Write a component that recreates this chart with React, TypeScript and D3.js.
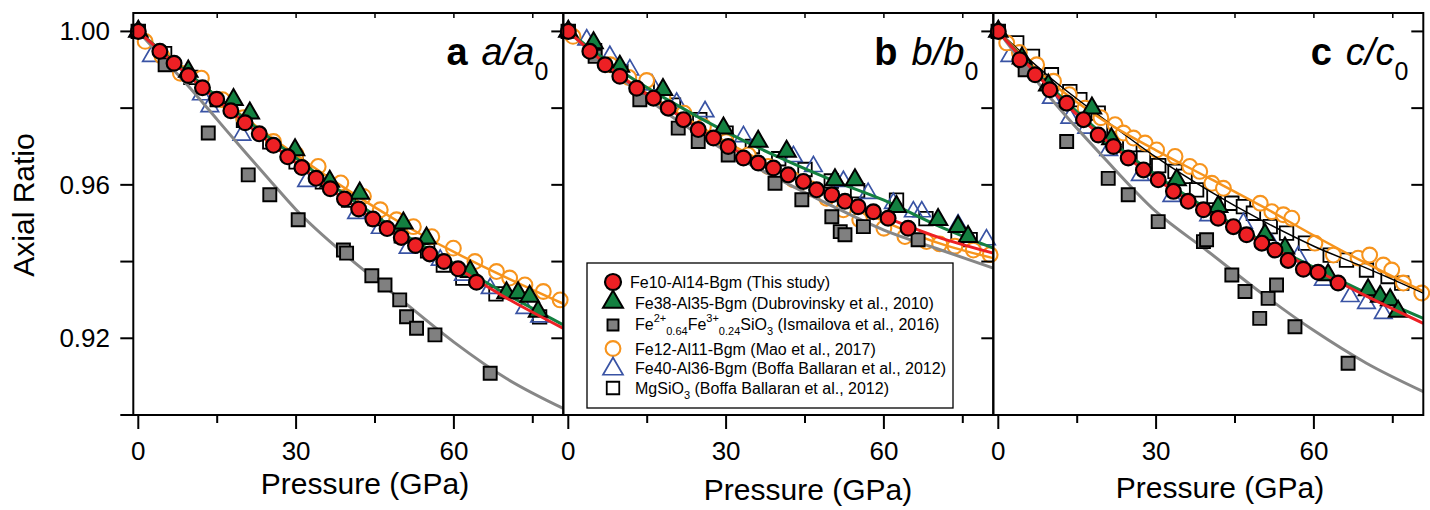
import React from 'react';
import * as d3 from 'd3';

type Pt = [number, number];

// ---------- axis ticks ----------
const pressureMajor = [0, 30, 60];
const pressureMinor = [15, 45, 75];
const ratioMajor = [1.0, 0.96, 0.92];
const ratioMinor = [0.98, 0.94, 0.9];
const panelLetters = ['a', 'b', 'c'];

// ---------- panel a (a/a0) ----------
const redA: Pt[] = [[0, 1.0], [4.1, 0.9948], [6.8, 0.9917], [9.5, 0.9885], [12.2, 0.9853], [14.9, 0.9823], [17.6, 0.9793], [20.3, 0.9762], [23.0, 0.9733], [25.7, 0.9703], [28.4, 0.9673], [31.1, 0.9645], [33.8, 0.9617], [36.5, 0.959], [39.2, 0.9563], [41.9, 0.9537], [44.6, 0.9511], [47.3, 0.9486], [50.0, 0.9463], [52.7, 0.9442], [55.4, 0.942], [58.1, 0.94], [60.8, 0.9381], [64.3, 0.9346]];
const redFitA: Pt[] = [[0, 1.0], [10, 0.9879], [20, 0.9765], [30, 0.9657], [40, 0.9555], [50, 0.9463], [60, 0.9388], [70, 0.9305], [80.8, 0.9226]];
const greenA: Pt[] = [[0, 1.0], [9.5, 0.9896], [18.1, 0.9822], [21.2, 0.9787], [29.8, 0.9691], [36.4, 0.9609], [42.1, 0.9578], [50.4, 0.95], [54.8, 0.9461], [63.1, 0.9374], [70.0, 0.9318], [72.2, 0.9318], [74.4, 0.9309], [76.0, 0.927]];
const greenFitA: Pt[] = [[0, 1.0], [10, 0.9885], [20, 0.9775], [30, 0.967], [40, 0.9568], [50, 0.9475], [60, 0.9395], [70, 0.9315], [80.8, 0.9235]];
const blueA: Pt[] = [[0, 1.0], [2.5, 0.9935], [12.0, 0.9835], [13.6, 0.9804], [19.7, 0.973], [32.0, 0.9609], [41.5, 0.9526], [46.0, 0.9487], [51.3, 0.9435], [57.4, 0.9404], [61.8, 0.9365], [66.9, 0.933], [73.5, 0.9278], [76.3, 0.9256]];
const orangeA: Pt[] = [[1.3, 0.9974], [4.5, 0.9935], [8.0, 0.9891], [12.0, 0.9878], [16.0, 0.9822], [20.0, 0.9775], [25.7, 0.9713], [30.0, 0.968], [34.2, 0.9648], [38.5, 0.9605], [42.8, 0.957], [46.0, 0.9535], [49.1, 0.9509], [52.3, 0.9491], [55.8, 0.9465], [59.9, 0.9435], [64.0, 0.94], [68.1, 0.9374], [70.6, 0.9357], [73.5, 0.9339], [77.0, 0.9322], [80.2, 0.93]];
const orangeFitA: Pt[] = [[0, 1.0], [10, 0.9885], [20, 0.9778], [30, 0.9678], [40, 0.9585], [50, 0.95], [60, 0.9425], [70, 0.9358], [80.8, 0.929]];
const grayA: Pt[] = [[0, 1.0], [5.1, 0.9913], [13.3, 0.9735], [20.9, 0.9626], [25.0, 0.9574], [30.4, 0.9509], [39.0, 0.943], [39.6, 0.9422], [44.4, 0.9363], [46.9, 0.9339], [49.7, 0.93], [51.0, 0.9256], [52.9, 0.9226], [56.4, 0.9209], [66.9, 0.9109]];
const grayFitA: Pt[] = [[0, 1.0], [5, 0.9925], [10, 0.985], [15, 0.977], [20, 0.969], [25, 0.9612], [30, 0.9535], [40, 0.941], [50, 0.93], [60, 0.919], [70, 0.9095], [80.8, 0.9017]];
const mgA: Pt[] = [[0, 1.0], [5, 0.9942], [10, 0.988], [15, 0.9822], [20, 0.9768], [25, 0.9712], [30, 0.966], [35, 0.9608], [40, 0.956], [45, 0.9512], [50, 0.9467], [55, 0.9428], [58.0, 0.9391], [61.7, 0.9357], [68.0, 0.9316], [76.3, 0.9256]];

// ---------- panel b (b/b0) ----------
const redB: Pt[] = [[0, 1.0], [4.1, 0.9948], [7.0, 0.9913], [9.8, 0.9883], [13.0, 0.9852], [16.2, 0.9826], [19.0, 0.98], [21.9, 0.977], [24.7, 0.9744], [27.6, 0.9722], [30.4, 0.97], [33.3, 0.967], [36.1, 0.9657], [39.0, 0.9644], [41.8, 0.9626], [44.7, 0.9609], [47.2, 0.9587], [50.1, 0.9574], [52.6, 0.9557], [55.1, 0.9543], [58.0, 0.953], [60.8, 0.9513], [64.6, 0.9487]];
const redFitB: Pt[] = [[0, 1.0], [10, 0.9883], [20, 0.979], [30, 0.9703], [40, 0.9637], [50, 0.9574], [60, 0.9517], [70, 0.9465], [80.8, 0.9422]];
const greenB: Pt[] = [[0, 1.0], [4.8, 0.997], [9.8, 0.9909], [18.0, 0.9848], [29.5, 0.9748], [36.1, 0.9713], [41.5, 0.9687], [50.7, 0.9613], [54.5, 0.9613], [62.4, 0.9543], [70.3, 0.9509], [74.1, 0.9491], [76.0, 0.9465]];
const greenFitB: Pt[] = [[0, 1.0], [10, 0.9897], [20, 0.9813], [30, 0.9738], [40, 0.9672], [50, 0.9613], [60, 0.956], [70, 0.9495], [80.8, 0.9435]];
const blueB: Pt[] = [[0, 1.0], [3.5, 0.9978], [7.9, 0.9935], [11.7, 0.99], [15.9, 0.9861], [20.6, 0.9813], [26.0, 0.9791], [33.3, 0.9726], [42.8, 0.9674], [46.6, 0.9648], [52.3, 0.9609], [57.0, 0.9578], [61.8, 0.9552], [65.6, 0.953], [67.2, 0.953], [74.1, 0.9496], [79.5, 0.9457]];
const orangeB: Pt[] = [[0.9, 0.9987], [4.5, 0.9948], [8.0, 0.9913], [11.5, 0.988], [14.9, 0.9872], [18.0, 0.9826], [22.0, 0.9787], [25.7, 0.9752], [30.0, 0.9713], [34.2, 0.9678], [38.0, 0.9648], [42.8, 0.9613], [46.0, 0.959], [49.1, 0.9565], [52.3, 0.9535], [55.4, 0.9509], [60.0, 0.9487], [64.0, 0.9465], [68.1, 0.9452], [70.6, 0.9446], [73.5, 0.944], [77.0, 0.943], [80.2, 0.9418]];
const orangeFitB: Pt[] = [[0, 1.0], [10, 0.9885], [20, 0.9795], [30, 0.9712], [40, 0.964], [50, 0.957], [60, 0.9505], [70, 0.945], [80.8, 0.9409]];
const grayB: Pt[] = [[0, 1.0], [5.1, 0.9935], [13.6, 0.9822], [20.9, 0.9748], [24.7, 0.9713], [30.4, 0.9678], [39.3, 0.9604], [44.4, 0.9561], [50.1, 0.9517], [51.7, 0.9478], [52.6, 0.947], [56.1, 0.9491], [66.5, 0.9457]];
const grayFitB: Pt[] = [[0, 1.0], [10, 0.9878], [20, 0.9775], [30, 0.9688], [40, 0.9615], [50, 0.9546], [60, 0.9482], [70, 0.9434], [80.8, 0.9383]];
const mgB: Pt[] = [[0, 1.0], [5, 0.995], [10, 0.9895], [15, 0.985], [20, 0.9808], [25, 0.977], [30, 0.9735], [35, 0.97], [40, 0.9668], [45, 0.964], [50, 0.961], [55, 0.9585], [62.4, 0.956], [68.0, 0.9512], [74.1, 0.9465], [76.4, 0.9457]];

// ---------- panel c (c/c0) ----------
const redC: Pt[] = [[0, 1.0], [4.1, 0.9926], [7.0, 0.9887], [9.8, 0.9848], [13.0, 0.9813], [16.2, 0.977], [19.0, 0.973], [21.9, 0.97], [24.7, 0.967], [27.6, 0.9639], [30.4, 0.9613], [33.3, 0.9583], [36.1, 0.9557], [39.0, 0.9535], [41.8, 0.9513], [44.7, 0.9491], [47.2, 0.947], [50.1, 0.9448], [52.6, 0.943], [55.1, 0.9403], [58.0, 0.938], [60.8, 0.9372], [64.6, 0.9344]];
const redFitC: Pt[] = [[0, 1.0], [10, 0.9849], [20, 0.9722], [30, 0.9616], [40, 0.9527], [50, 0.945], [60, 0.938], [70, 0.931], [80.8, 0.9239]];
const greenC: Pt[] = [[0, 1.0], [4.5, 0.993], [9.5, 0.986], [17.8, 0.98], [21.5, 0.972], [33.9, 0.9613], [41.8, 0.9543], [50.7, 0.947], [54.5, 0.9435], [62.7, 0.9365], [70.3, 0.9326], [72.6, 0.9309], [74.5, 0.93], [76.0, 0.927]];
const greenFitC: Pt[] = [[0, 1.0], [10, 0.9855], [20, 0.973], [30, 0.9625], [40, 0.9535], [50, 0.9455], [60, 0.9385], [70, 0.9318], [80.8, 0.9252]];
const blueC: Pt[] = [[0, 1.0], [2.2, 0.9935], [10.1, 0.9826], [13.6, 0.9774], [16.8, 0.9748], [21.0, 0.969], [27.0, 0.9625], [33.0, 0.957], [40.0, 0.952], [46.6, 0.95], [52.0, 0.9445], [57.0, 0.9413], [61.8, 0.9352], [66.9, 0.9309], [70.0, 0.9291], [73.2, 0.9265]];
const orangeC: Pt[] = [[1.6, 0.997], [4.0, 0.9945], [7.3, 0.9913], [10.5, 0.987], [13.5, 0.9835], [16.5, 0.98], [19.5, 0.9775], [22.2, 0.9757], [23.8, 0.9735], [25.7, 0.9722], [27.9, 0.9709], [30.1, 0.9691], [33.6, 0.9674], [36.4, 0.9648], [38.3, 0.9635], [40.6, 0.9604], [42.8, 0.9591], [49.8, 0.9552], [52.0, 0.953], [54.2, 0.9522], [55.8, 0.9513], [60.2, 0.9448], [63.7, 0.9417], [68.4, 0.9409], [70.6, 0.9417], [73.2, 0.9391], [74.8, 0.9378], [77.0, 0.9344], [80.5, 0.9318]];
const orangeFitC: Pt[] = [[0, 1.0], [10, 0.9868], [20, 0.9768], [30, 0.969], [40, 0.9618], [50, 0.9545], [60, 0.9468], [70, 0.9395], [80.8, 0.9322]];
const grayC: Pt[] = [[0, 1.0], [5.1, 0.99], [13.0, 0.9713], [20.9, 0.9617], [24.7, 0.9574], [30.4, 0.9504], [39.0, 0.9452], [39.6, 0.9457], [44.4, 0.9365], [46.9, 0.9322], [49.7, 0.9252], [51.3, 0.9304], [52.9, 0.9339], [56.4, 0.923], [66.5, 0.9135]];
const grayFitC: Pt[] = [[0, 1.0], [10, 0.9825], [20, 0.9672], [30, 0.953], [40, 0.9425], [50, 0.9318], [60, 0.922], [70, 0.9135], [80.8, 0.9061]];
const mgC: Pt[] = [[0, 1.0], [3.5, 0.997], [6.5, 0.9935], [10.1, 0.9887], [13.6, 0.9843], [15.5, 0.9822], [19.0, 0.9787], [22.0, 0.975], [25.0, 0.9705], [27.6, 0.967], [30.5, 0.965], [33.6, 0.9635], [35.5, 0.9622], [37.7, 0.9587], [41.0, 0.957], [44.4, 0.9552], [46.6, 0.9543], [48.5, 0.9526], [51.7, 0.9491], [54.8, 0.9474], [58.4, 0.9448], [63.1, 0.9417], [66.2, 0.9404], [70.0, 0.9378], [74.1, 0.9361], [76.7, 0.9344]];
const mgFitC: Pt[] = [[0, 1.0], [10, 0.9878], [20, 0.9772], [30, 0.9672], [40, 0.9585], [50, 0.9508], [60, 0.944], [70, 0.9383], [80.8, 0.9318]];

// ---------- legend ----------
const legendNames = [
  'Fe10-Al14-Bgm (This study)',
  'Fe38-Al35-Bgm (Dubrovinsky et al., 2010)',
  'ISMAILOVA',
  'Fe12-Al11-Bgm (Mao et al., 2017)',
  'Fe40-Al36-Bgm (Boffa Ballaran et al., 2012)',
  'MGSIO3',
];
const legendKinds = ['red', 'green', 'gray', 'orange', 'blue', 'mg'];

const panels = [
  { red: redA, redFit: redFitA, green: greenA, greenFit: greenFitA, blue: blueA, orange: orangeA, orangeFit: orangeFitA, gray: grayA, grayFit: grayFitA, mg: mgA, mgFit: null as Pt[] | null },
  { red: redB, redFit: redFitB, green: greenB, greenFit: greenFitB, blue: blueB, orange: orangeB, orangeFit: orangeFitB, gray: grayB, grayFit: grayFitB, mg: mgB, mgFit: null as Pt[] | null },
  { red: redC, redFit: redFitC, green: greenC, greenFit: greenFitC, blue: blueC, orange: orangeC, orangeFit: orangeFitC, gray: grayC, grayFit: grayFitC, mg: mgC, mgFit: mgFitC as Pt[] | null },
];

// ---------- layout ----------
const W = 1430;
const H = 510;
const FONT = "'Liberation Sans', Arial, Helvetica, sans-serif";
const TOP = 13;
const BOTTOM = 415;
const PANEL_W = 430;
const LEFTS = [133.3, 563.3, 993.3];
const XLABEL_X = [365, 808, 1220];
const XLABEL_Y = [494, 500, 498];
const COL = { red: '#ED2024', green: '#138040', gray: '#878787', orange: '#F7941D', blue: '#3953A4' };

const yScale = d3.scaleLinear().domain([0.9, 1.0048]).range([BOTTOM, TOP]);
const makeX = (i: number) => d3.scaleLinear().domain([-0.95, 80.8]).range([LEFTS[i], LEFTS[i] + PANEL_W]);

const triPath = (side: number) => d3.symbol(d3.symbolTriangle, (Math.sqrt(3) / 4) * side * side)() as string;
const sqPath = (side: number) => d3.symbol(d3.symbolSquare, side * side)() as string;

function Marker({ kind, x, y, legend }: { kind: string; x: number; y: number; legend?: boolean }) {
  switch (kind) {
    case 'red':
      return <circle cx={x} cy={y} r={legend ? 8 : 7.4} fill={COL.red} stroke="#000" strokeWidth={2.2} />;
    case 'green':
      return <path d={triPath(legend ? 20 : 18.5)} transform={`translate(${x},${y})`} fill={COL.green} stroke="#000" strokeWidth={2} />;
    case 'gray':
      return <path d={sqPath(legend ? 11 : 13)} transform={`translate(${x},${y})`} fill="#808080" stroke="#000" strokeWidth={1.9} />;
    case 'orange':
      return <circle cx={x} cy={y} r={7.4} fill="#fff" stroke={COL.orange} strokeWidth={2.1} />;
    case 'blue':
      return <path d={triPath(legend ? 20 : 17.5)} transform={`translate(${x},${y})`} fill="none" stroke={COL.blue} strokeWidth={1.7} />;
    default:
      return <path d={sqPath(legend ? 12.5 : 13.5)} transform={`translate(${x},${y})`} fill="#fff" stroke="#000" strokeWidth={1.8} />;
  }
}

function Panel({ i }: { i: number }) {
  const p = panels[i];
  const x = makeX(i);
  const left = LEFTS[i];
  const right = left + PANEL_W;
  const line = d3.line<Pt>().x((d) => x(d[0])).y((d) => yScale(d[1])).curve(d3.curveMonotoneX);
  const pts = (arr: Pt[], kind: string) => arr.map((d, k) => <Marker key={kind + k} kind={kind} x={x(d[0])} y={yScale(d[1])} />);
  const clipId = `clip${i}`;
  const letter = panelLetters[i];
  return (
    <g>
      <defs>
        <clipPath id={clipId}>
          <rect x={left} y={TOP} width={PANEL_W} height={BOTTOM - TOP} />
        </clipPath>
      </defs>
      {pts(p.mg, 'mg')}
      {pts(p.blue, 'blue')}
      {pts(p.orange, 'orange')}
      <g clipPath={`url(#${clipId})`} fill="none" strokeLinecap="round">
        {p.mgFit && <path d={line(p.mgFit) as string} stroke="#000" strokeWidth={1.5} />}
        <path d={line(p.orangeFit) as string} stroke={COL.orange} strokeWidth={2.5} />
        <path d={line(p.grayFit) as string} stroke={COL.gray} strokeWidth={3} />
      </g>
      {pts(p.gray, 'gray')}
      <g clipPath={`url(#${clipId})`} fill="none">
        <path d={line(p.greenFit) as string} stroke={COL.green} strokeWidth={3} />
      </g>
      {pts(p.green, 'green')}
      <g clipPath={`url(#${clipId})`} fill="none">
        <path d={line(p.redFit) as string} stroke={COL.red} strokeWidth={3} />
      </g>
      {pts(p.red, 'red')}

      {/* frame */}
      <rect x={left} y={TOP} width={PANEL_W} height={BOTTOM - TOP} fill="none" stroke="#000" strokeWidth={2} />

      {/* bottom ticks (outward) */}
      {pressureMajor.map((t) => (
        <line key={'bM' + t} x1={x(t)} x2={x(t)} y1={BOTTOM} y2={BOTTOM + 14} stroke="#000" strokeWidth={2} />
      ))}
      {pressureMinor.map((t) => (
        <line key={'bm' + t} x1={x(t)} x2={x(t)} y1={BOTTOM} y2={BOTTOM + 8} stroke="#000" strokeWidth={2} />
      ))}
      {/* top ticks (inward) */}
      {[...pressureMajor.filter((t) => t > 0), ...pressureMinor].map((t) => (
        <line key={'t' + t} x1={x(t)} x2={x(t)} y1={TOP} y2={TOP + 5} stroke="#000" strokeWidth={1.5} />
      ))}
      {/* right ticks (inward) */}
      {[...ratioMajor, ...ratioMinor.filter((v) => v > 0.9)].map((v) => (
        <line key={'r' + v} x1={right - 12} x2={right} y1={yScale(v)} y2={yScale(v)} stroke="#000" strokeWidth={2} />
      ))}
      {/* tick labels */}
      {pressureMajor.map((t) => (
        <text key={'bl' + t} x={x(t)} y={460} textAnchor="middle" fontSize={26} fontFamily={FONT}>{t}</text>
      ))}
      <text x={XLABEL_X[i]} y={XLABEL_Y[i]} textAnchor="middle" fontSize={30} fontFamily={FONT}>Pressure (GPa)</text>

      {/* panel title */}
      <text x={right - 15} y={65} textAnchor="end" fontSize={38} fontFamily={FONT}>
        <tspan fontWeight="bold">{letter}</tspan>
        <tspan dx={14} fontStyle="italic">{letter}/{letter}</tspan>
        <tspan fontSize={25} dy={15}>0</tspan>
      </text>
    </g>
  );
}

function Legend() {
  const lx = 587, ly = 263, lw = 366, lh = 145;
  const rowY = [282, 302, 325, 348.5, 369, 388];
  const baseY = [288, 309, 330, 355, 374, 394];
  const textX = [630, 635, 635, 635, 635, 635];
  const sub = 11;
  return (
    <g fontFamily={FONT}>
      <rect x={lx} y={ly} width={lw} height={lh} fill="#fff" stroke="#000" strokeWidth={1.3} />
      {legendKinds.map((k, j) => (
        <Marker key={k} kind={k} x={613} y={rowY[j]} legend />
      ))}
      {legendNames.map((name, j) => {
        if (name === 'ISMAILOVA') {
          return (
            <text key={j} x={textX[j]} y={baseY[j]} fontSize={16}>
              Fe
              <tspan fontSize={sub} dy={-8}>2+</tspan>
              <tspan fontSize={sub} dy={13}>0.64</tspan>
              <tspan dy={-5}>Fe</tspan>
              <tspan fontSize={sub} dy={-8}>3+</tspan>
              <tspan fontSize={sub} dy={13}>0.24</tspan>
              <tspan dy={-5}>SiO</tspan>
              <tspan fontSize={sub} dy={5}>3</tspan>
              <tspan dy={-5}> (Ismailova et al., 2016)</tspan>
            </text>
          );
        }
        if (name === 'MGSIO3') {
          return (
            <text key={j} x={textX[j]} y={baseY[j]} fontSize={16}>
              MgSiO
              <tspan fontSize={sub} dy={5}>3</tspan>
              <tspan dy={-5}> (Boffa Ballaran et al., 2012)</tspan>
            </text>
          );
        }
        return (
          <text key={j} x={textX[j]} y={baseY[j]} fontSize={16}>{name}</text>
        );
      })}
    </g>
  );
}

export default function App() {
  const leftX = LEFTS[0];
  return (
    <svg width={W} height={H} style={{ position: 'absolute', left: 0, top: 0, background: '#fff' }} xmlns="http://www.w3.org/2000/svg">
      <rect x={0} y={0} width={W} height={H} fill="#fff" />
      {[0, 1, 2].map((i) => (
        <Panel key={i} i={i} />
      ))}
      {/* left axis ticks & labels of panel a */}
      {[...ratioMajor, ...ratioMinor].map((v) => (
        <line key={'l' + v} x1={leftX - 13} x2={leftX} y1={yScale(v)} y2={yScale(v)} stroke="#000" strokeWidth={2} />
      ))}
      {ratioMajor.map((v) => (
        <text key={'ll' + v} x={110} y={yScale(v) + 9} textAnchor="end" fontSize={26} fontFamily={FONT}>{v.toFixed(2)}</text>
      ))}
      <text transform="translate(34,205) rotate(-90)" textAnchor="middle" fontSize={30} fontFamily={FONT}>Axial Ratio</text>
      <Legend />
    </svg>
  );
}
